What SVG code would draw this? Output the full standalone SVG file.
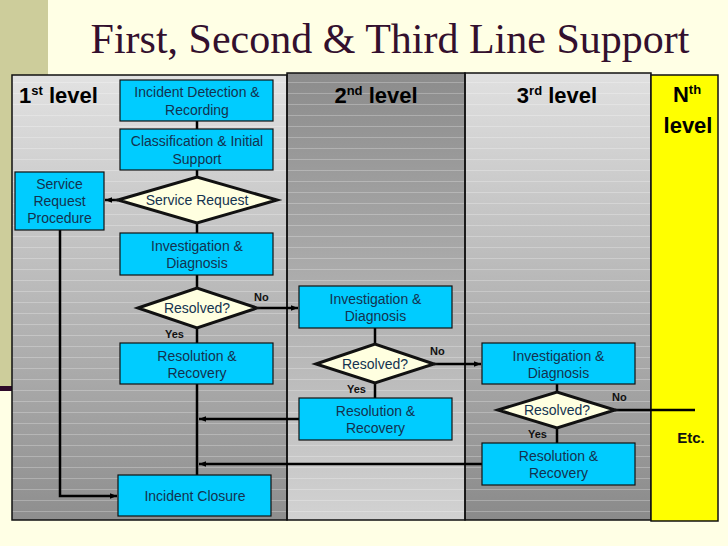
<svg xmlns="http://www.w3.org/2000/svg" width="728" height="546" viewBox="0 0 728 546">
<defs>
<linearGradient id="g1" x1="0" y1="0" x2="0" y2="1"><stop offset="0" stop-color="#e2e2e2"/><stop offset="1" stop-color="#8e8e8e"/></linearGradient>
<linearGradient id="g2" x1="0" y1="0" x2="0" y2="1"><stop offset="0" stop-color="#8c8c8c"/><stop offset="1" stop-color="#d2d2d2"/></linearGradient>
<linearGradient id="g3" x1="0" y1="0" x2="0" y2="1"><stop offset="0" stop-color="#e0e0e0"/><stop offset="1" stop-color="#8a8a8a"/></linearGradient>
<pattern id="stripes" x="0" y="0" width="728" height="11" patternUnits="userSpaceOnUse"><rect x="0" y="5" width="728" height="1" fill="#ffffff" fill-opacity="0.25"/></pattern>
<marker id="ah" viewBox="0 0 10 10" refX="10" refY="5" markerWidth="7" markerHeight="7" markerUnits="userSpaceOnUse" orient="auto"><path d="M0,1 L10,5 L0,9 Z" fill="#000"/></marker>
</defs>
<style>
.box{fill:#00ccff;stroke:#111;stroke-width:1.2}
.dia{fill:#ffffe0;stroke:#111;stroke-width:3}
.t{font-family:"Liberation Sans",Arial,sans-serif;font-size:14px;fill:#14324f;text-anchor:middle}
.lbl{font-family:"Liberation Sans",Arial,sans-serif;font-size:11px;font-weight:bold;fill:#111}
.hd{font-family:"Liberation Sans",Arial,sans-serif;font-size:22px;font-weight:bold;fill:#000}
.sup{font-size:13px}
.c{fill:none;stroke:#000;stroke-width:2.5}
.ca{fill:none;stroke:#000;stroke-width:2.5;marker-end:url(#ah)}
</style>
<rect x="0" y="0" width="728" height="546" fill="#ffffe5"/>
<rect x="0" y="0" width="48" height="386" fill="#cdcd9b"/>
<rect x="0" y="386" width="14" height="5" fill="#2e0a2a"/>
<text x="390" y="53" text-anchor="middle" font-family="Liberation Serif,'Times New Roman',serif" font-size="42" fill="#33102e">First, Second &amp; Third Line Support</text>

<g id="lanes">
<rect x="12" y="75" width="275" height="445" fill="url(#g1)"/>
<rect x="287" y="73" width="178" height="447" fill="url(#g2)"/>
<rect x="465" y="73" width="186" height="447" fill="url(#g3)"/>
<rect x="12" y="75" width="639" height="445" fill="url(#stripes)"/>
<rect x="12" y="75" width="275" height="445" fill="none" stroke="#111" stroke-width="1.5"/>
<rect x="287" y="73" width="178" height="447" fill="none" stroke="#111" stroke-width="1.5"/>
<rect x="465" y="73" width="186" height="447" fill="none" stroke="#111" stroke-width="1.5"/>
<rect x="651" y="75" width="67" height="446" fill="#ffff00" stroke="#111" stroke-width="1.5"/>
<text class="hd" x="19" y="103">1<tspan class="sup" dy="-8">st</tspan><tspan dy="8"> level</tspan></text>
<text class="hd" x="376" y="103" text-anchor="middle">2<tspan class="sup" dy="-8">nd</tspan><tspan dy="8"> level</tspan></text>
<text class="hd" x="557" y="103" text-anchor="middle">3<tspan class="sup" dy="-8">rd</tspan><tspan dy="8"> level</tspan></text>
<text class="hd" x="687" y="102" text-anchor="middle">N<tspan class="sup" dy="-8">th</tspan></text>
<text class="hd" x="688" y="133" text-anchor="middle">level</text>
<text x="691" y="443" text-anchor="middle" font-family="Liberation Sans,Arial,sans-serif" font-size="15" font-weight="bold" fill="#111">Etc.</text>
</g>

<g id="connectors">
<line class="c" x1="197" y1="121" x2="197" y2="129"/>
<line class="c" x1="197" y1="170" x2="197" y2="177"/>
<line class="c" x1="197" y1="223" x2="197" y2="233"/>
<line class="c" x1="197" y1="275" x2="197" y2="288"/>
<line class="c" x1="197" y1="328" x2="197" y2="343"/>
<line class="c" x1="197" y1="384" x2="197" y2="475"/>
<line class="ca" x1="118" y1="200" x2="105" y2="200"/>
<polyline class="ca" points="60,230 60,496 117,496"/>
<line class="ca" x1="258" y1="308" x2="298" y2="308"/>
<line class="c" x1="375" y1="328" x2="375" y2="344"/>
<line class="c" x1="375" y1="383" x2="375" y2="398"/>
<line class="ca" x1="434" y1="364" x2="481" y2="364"/>
<line class="ca" x1="299" y1="419" x2="199" y2="419"/>
<line class="c" x1="557" y1="384" x2="557" y2="392"/>
<line class="c" x1="557" y1="428" x2="557" y2="443"/>
<line class="c" x1="615" y1="410" x2="695" y2="410"/>
<line class="ca" x1="482" y1="464" x2="199" y2="464"/>
<text class="lbl" x="254" y="301">No</text>
<text class="lbl" x="165" y="338">Yes</text>
<text class="lbl" x="430" y="355">No</text>
<text class="lbl" x="347" y="393">Yes</text>
<text class="lbl" x="612" y="401">No</text>
<text class="lbl" x="528" y="438">Yes</text>
</g>

<g id="n1"><rect class="box" x="120" y="80" width="153" height="41"/><text class="t" x="197" y="97">Incident Detection &amp;</text><text class="t" x="197" y="115">Recording</text></g>
<g id="n2"><rect class="box" x="120" y="129" width="153" height="41"/><text class="t" x="197" y="146">Classification &amp; Initial</text><text class="t" x="197" y="164">Support</text></g>
<g id="d1"><polygon class="dia" points="118,200 197,177 277,200 197,223"/><text class="t" x="197" y="205">Service Request</text></g>
<g id="n3"><rect class="box" x="15" y="172" width="89" height="58"/><text class="t" x="59.5" y="189">Service</text><text class="t" x="59.5" y="206">Request</text><text class="t" x="59.5" y="223">Procedure</text></g>
<g id="n4"><rect class="box" x="120" y="233" width="153" height="42"/><text class="t" x="197" y="251">Investigation &amp;</text><text class="t" x="197" y="268">Diagnosis</text></g>
<g id="d2"><polygon class="dia" points="138,308 197,288 257,308 197,328"/><text class="t" x="197" y="313">Resolved?</text></g>
<g id="n5"><rect class="box" x="120" y="343" width="153" height="41"/><text class="t" x="197" y="361">Resolution &amp;</text><text class="t" x="197" y="378">Recovery</text></g>
<g id="n6"><rect class="box" x="118" y="475" width="153" height="41"/><text class="t" x="195" y="500.5">Incident Closure</text></g>
<g id="n7"><rect class="box" x="299" y="286" width="153" height="42"/><text class="t" x="375.5" y="304">Investigation &amp;</text><text class="t" x="375.5" y="321">Diagnosis</text></g>
<g id="d3"><polygon class="dia" points="316,364 375,344 434,364 375,383"/><text class="t" x="375" y="369">Resolved?</text></g>
<g id="n8"><rect class="box" x="299" y="398" width="153" height="42"/><text class="t" x="375.5" y="416">Resolution &amp;</text><text class="t" x="375.5" y="433">Recovery</text></g>
<g id="n9"><rect class="box" x="482" y="343" width="153" height="41"/><text class="t" x="558.5" y="361">Investigation &amp;</text><text class="t" x="558.5" y="378">Diagnosis</text></g>
<g id="d4"><polygon class="dia" points="498,410 557,392 615,410 557,428"/><text class="t" x="557" y="415">Resolved?</text></g>
<g id="n10"><rect class="box" x="482" y="443" width="153" height="42"/><text class="t" x="558.5" y="461">Resolution &amp;</text><text class="t" x="558.5" y="478">Recovery</text></g>
</svg>
